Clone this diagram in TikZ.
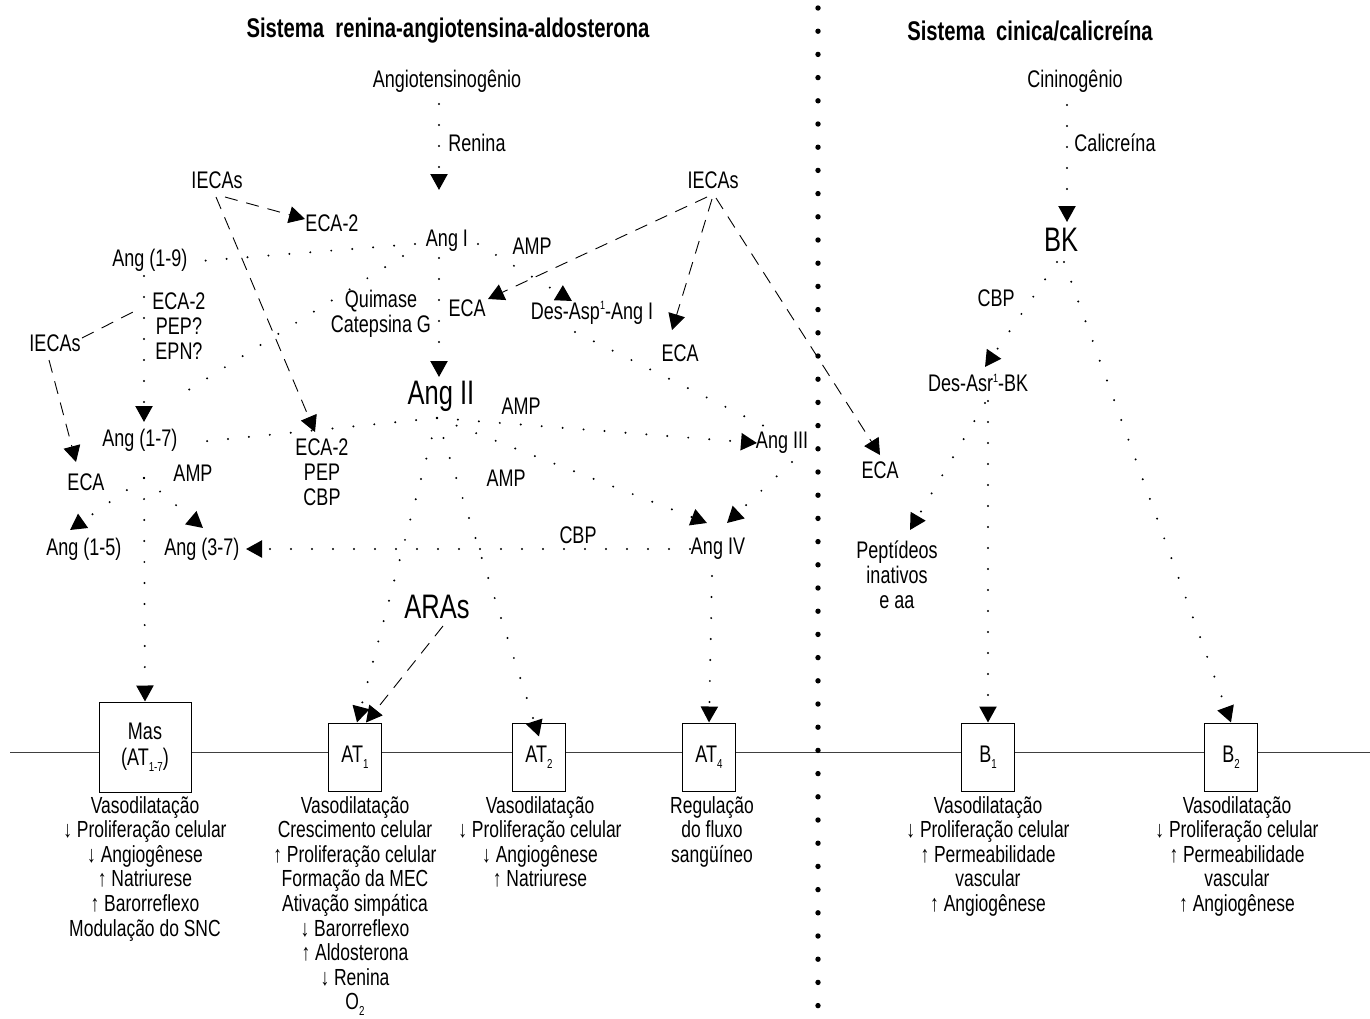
\documentclass[tikz,border=0pt]{standalone}
\usepackage{fontspec}
\setmainfont{Liberation Sans}[FakeStretch=0.75]
\usetikzlibrary{arrows.meta}
\newcommand{\supone}{\raisebox{0.75ex}{\fontsize{12}{12}\selectfont 1}}
\newcommand{\subx}[1]{\raisebox{-0.45ex}{\fontsize{13}{13}\selectfont #1}}
\begin{document}
\begin{tikzpicture}[x=1pt,y=-1pt,
  lbl/.style={font=\fontsize{24}{25}\selectfont, inner sep=0pt, align=center},
  big/.style={font=\fontsize{34}{36}\selectfont, inner sep=0pt},
  ttl/.style={font=\bfseries\fontsize{27}{30}\selectfont, inner sep=0pt},
  eff/.style={font=\fontsize{23.3}{24.6}\selectfont, inner sep=0pt, align=center, anchor=north},
  rbox/.style={draw, line width=1pt, fill=white, minimum width=53pt, minimum height=68pt, inner sep=0pt, font=\fontsize{24}{26}\selectfont, align=center},
  dl/.style={line width=2.2pt, line cap=round, dash pattern=on 0pt off 21pt},
  dla/.style={dl, -{Triangle[length=16pt,width=17pt]}},
  dsh/.style={line width=0.9pt, dash pattern=on 13pt off 9pt},
  dsha/.style={dsh, -{Triangle[length=16pt,width=17pt]}},
  bigdot/.style={fill=black}
]
\useasboundingbox (0,0) rectangle (1370,1018);
\fill[white] (0,0) rectangle (1370,1018);

% ---------- divider and baseline ----------
\draw[line width=0.9pt, black!75] (10,752) -- (1370,752);
\foreach \k in {0,...,43} \fill[bigdot] (818,{8+\k*23.2}) circle (2.7pt);

% ---------- titles ----------
\node[ttl] (tras) at (448,31) {Sistema\ \ renina-angiotensina-aldosterona};
\node[ttl] (tkk) at (1030,31) {Sistema\ \ cinica/calicreína};

% ---------- left system labels ----------
\node[lbl] (agt) at (447,81) {Angiotensinogênio};
\node[lbl] (renina) at (477,143) {Renina};
\node[lbl] (angI) at (447,241) {Ang I};
\node[lbl] (iecaTL) at (217,180) {IECAs};
\node[lbl] (eca2a) at (332,223) {ECA-2};
\node[lbl] (ang19) at (150,260) {Ang (1-9)};
\node[lbl] (amp1) at (532,246) {AMP};
\node[lbl] (quim) at (381,314) {Quimase\\Catepsina G};
\node[lbl] (ecaM) at (467,308) {ECA};
\node[lbl] (desasp) at (592,313) {Des-Asp\supone-Ang I};
\node[lbl] (iecaTR) at (713,180) {IECAs};
\node[lbl] (ecaR) at (680,353) {ECA};
\node[lbl] (iecaL) at (55,343) {IECAs};
\node[lbl] (enzA) at (179,326) {ECA-2\\PEP?\\EPN?};
\node[big] (angII) at (441,396) {Ang II};
\node[lbl] (amp2) at (521,406) {AMP};
\node[lbl] (ang17) at (140,440) {Ang (1-7)};
\node[lbl] (enzB) at (322,472) {ECA-2\\PEP\\CBP};
\node[lbl] (angIII) at (782,443) {Ang III};
\node[lbl] (ecaFR) at (880,470) {ECA};
\node[lbl] (ecaL) at (86,482) {ECA};
\node[lbl] (amp3) at (193,473) {AMP};
\node[lbl] (amp4) at (506,478) {AMP};
\node[lbl] (ang15) at (84,549) {Ang (1-5)};
\node[lbl] (ang37) at (202,549) {Ang (3-7)};
\node[lbl] (cbpA) at (578,535) {CBP};
\node[lbl] (angIV) at (718,549) {Ang IV};
\node[big] (aras) at (437,607) {ARAs};

% ---------- right system labels ----------
\node[lbl] (cin) at (1075,81) {Cininogênio};
\node[lbl] (calic) at (1115,143) {Calicreína};
\node[big] (bk) at (1061,240) {BK};
\node[lbl] (cbpB) at (996,298) {CBP};
\node[lbl] (desasr) at (978,383) {Des-Asr\supone-BK};
\node[lbl] (pept) at (897,575) {Peptídeos\\inativos\\e aa};

% ---------- receptor boxes ----------
\node[rbox, minimum width=92pt, minimum height=90pt] (mas) at (145,747) {Mas\\(AT\subx{1-7})};
\node[rbox] (at1) at (355,757) {AT\subx{1}};
\node[rbox] (at2) at (539,757) {AT\subx{2}};
\node[rbox] (at4) at (709,757) {AT\subx{4}};
\node[rbox] (b1) at (988,757) {B\subx{1}};
\node[rbox] (b2) at (1231,757) {B\subx{2}};

% ---------- effects ----------
\node[eff] (effMas) at (145,796) {Vasodilatação\\↓ Proliferação celular\\↓ Angiogênese\\↑ Natriurese\\↑ Barorreflexo\\Modulação do SNC};
\node[eff] (effAT1) at (355,796) {Vasodilatação\\Crescimento celular\\↑ Proliferação celular\\Formação da MEC\\Ativação simpática\\↓ Barorreflexo\\↑ Aldosterona\\↓ Renina\\O\subx{2}};
\node[eff] (effAT2) at (540,796) {Vasodilatação\\↓ Proliferação celular\\↓ Angiogênese\\↑ Natriurese};
\node[eff] (effAT4) at (712,796) {Regulação\\do fluxo\\sangüíneo};
\node[eff] (effB1) at (988,796) {Vasodilatação\\↓ Proliferação celular\\↑ Permeabilidade\\vascular\\↑ Angiogênese};
\node[eff] (effB2) at (1237,796) {Vasodilatação\\↓ Proliferação celular\\↑ Permeabilidade\\vascular\\↑ Angiogênese};

% ---------- connector end points ----------
\coordinate (agtS) at (439,104);
\coordinate (angIN) at (439,190);
\coordinate (angIS) at (439,258);
\coordinate (angIIN) at (439,377);
\coordinate (angIW) at (415,244);
\coordinate (ang19E) at (200,261);
\coordinate (angISW) at (403,256);
\coordinate (enzAE) at (182,394);
\coordinate (ang19S) at (144,276);
\coordinate (ang17N) at (144,422);
\coordinate (iecaTLa) at (225,197);
\coordinate (eca2aW) at (305,219);
\coordinate (iecaTLb) at (216,197);
\coordinate (enzBN) at (315,432);
\coordinate (iecaLa) at (82,338);
\coordinate (enzAW) at (133,312);
\coordinate (iecaLb) at (49,360);
\coordinate (ecaLN) at (76,462);
\coordinate (ang17S) at (144,478);
\coordinate (ang15N) at (70,530);
\coordinate (ang37N) at (203,528);
\coordinate (angIIhub) at (437,418);
\coordinate (ang17E) at (198,442);
\coordinate (angIIIW) at (757,443);
\coordinate (desaspS) at (575,332);
\coordinate (angIIINW) at (768,428);
\coordinate (angIE) at (478,244);
\coordinate (desaspN) at (572,301);
\coordinate (iecaTRa) at (707,197);
\coordinate (ecaMNE) at (488,299);
\coordinate (iecaTRb) at (712,199);
\coordinate (ecaRN) at (672,330);
\coordinate (iecaTRc) at (716,198);
\coordinate (ecaFRN) at (880,455);
\coordinate (angIVNW) at (707,523);
\coordinate (angIIIS) at (792,462);
\coordinate (angIVNE) at (727,523);
\coordinate (angIVW) at (690,549);
\coordinate (ang37E) at (246,549);
\coordinate (angIVS) at (712,576);
\coordinate (arasS) at (443,626);
\coordinate (cinS) at (1067,105);
\coordinate (bkN) at (1067,222);
\coordinate (bkSW) at (1057,262);
\coordinate (bkSE) at (1064,262);
\coordinate (desasrN) at (985,367);
\coordinate (desasrS) at (988,401);
\coordinate (desasrSW) at (985,403);
\coordinate (peptN) at (910,530);

% ---------- dotted conversions ----------
\draw[dla] (agtS) -- (angIN);
\draw[dla] (angIS) -- (angIIN);
\draw[dl] (angIW) -- (ang19E);
\draw[dl] (angISW) -- (enzAE);
\draw[dla] (ang19S) -- (ang17N);
\draw[dla] (ang17S) -- (ang15N);
\draw[dla] (ang17S) -- (ang37N);
\draw[dla] (ang17S) -- (mas.north);
\draw[dl] (angIIhub) -- (ang17E);
\draw[dla] (angIIhub) -- (angIIIW);
\draw[dl] (desaspS) -- (angIIINW);
\draw[dla] (angIE) -- (desaspN);
\draw[dla] (angIIhub) -- (angIVNW);
\draw[dla] (angIIIS) -- (angIVNE);
\draw[dla] (angIVW) -- (ang37E);
\draw[dla] (angIVS) -- (at4.north);
\draw[dla] (angIIhub) -- ([xshift=2pt]at1.north);
\draw[dla] (angIIhub) -- ([yshift=-14pt]at2.north);
\draw[dla] (cinS) -- (bkN);
\draw[dla] (bkSW) -- (desasrN);
\draw[dla] (bkSE) -- (b2.north);
\draw[dla] (desasrS) -- (b1.north);
\draw[dla] (desasrSW) -- (peptN);

% ---------- dashed inhibitions ----------
\draw[dsha] (iecaTLa) -- (eca2aW);
\draw[dsha] (iecaTLb) -- (enzBN);
\draw[dsh] (iecaLa) -- (enzAW);
\draw[dsha] (iecaLb) -- (ecaLN);
\draw[dsha] (iecaTRa) -- (ecaMNE);
\draw[dsha] (iecaTRb) -- (ecaRN);
\draw[dsha] (iecaTRc) -- (ecaFRN);
\draw[dsha] (arasS) -- ([xshift=11pt]at1.north);
\end{tikzpicture}
\end{document}
